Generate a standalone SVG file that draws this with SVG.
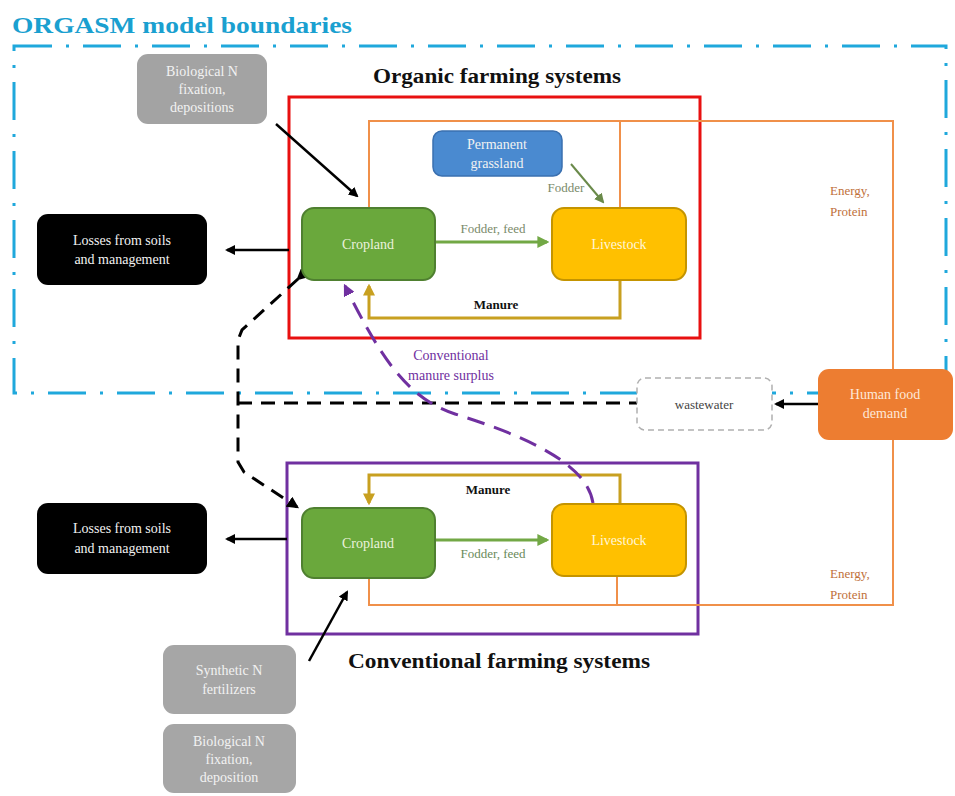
<svg xmlns="http://www.w3.org/2000/svg" width="955" height="796" viewBox="0 0 955 796">
<style>
text{font-family:"Liberation Serif","DejaVu Serif",serif;}
.lbl{font-size:14px;text-anchor:middle;}
.wt{fill:#f2f2f2;}
.ttl{font-size:20px;font-weight:bold;fill:#111;text-anchor:middle;}
.ep{font-size:13px;fill:#c0703a;}
.or{fill:none;stroke:#f0904a;stroke-width:2;}
.mn{fill:none;stroke:#c8a020;stroke-width:3;}
.ff{fill:none;stroke:#72a845;stroke-width:3;}
.blk{fill:none;stroke:#000;stroke-width:2.5;}
</style>
<defs>
<marker id="ab" viewBox="0 0 10 10" refX="8" refY="5" markerWidth="4" markerHeight="4" orient="auto"><path d="M0,0 L10,5 L0,10 z" fill="#000"/></marker>
<marker id="ag" viewBox="0 0 10 10" refX="8" refY="5" markerWidth="4" markerHeight="4" orient="auto"><path d="M0,0 L10,5 L0,10 z" fill="#72a845"/></marker>
<marker id="ao" viewBox="0 0 10 10" refX="8" refY="5" markerWidth="4" markerHeight="4" orient="auto"><path d="M0,0 L10,5 L0,10 z" fill="#c8a020"/></marker>
<marker id="ap" viewBox="0 0 10 10" refX="8" refY="5" markerWidth="4" markerHeight="4" orient="auto"><path d="M0,0 L10,5 L0,10 z" fill="#7030a0"/></marker>
<marker id="as" viewBox="0 0 10 10" refX="8" refY="5" markerWidth="5" markerHeight="5" orient="auto"><path d="M0,0 L10,5 L0,10 z" fill="#6a8a4a"/></marker>
</defs>
<rect width="955" height="796" fill="#fff"/>
<text x="12" y="33" font-size="24" font-weight="bold" fill="#1aa0d0" textLength="340" lengthAdjust="spacingAndGlyphs">ORGASM model boundaries</text>
<g id="boundary"><rect x="14" y="46" width="932" height="347" fill="none" stroke="#1fa8dc" stroke-width="3" stroke-dasharray="38 14 3 14"/></g>
<g id="organic-frame">
<rect x="289" y="97" width="411" height="241" fill="none" stroke="#e81010" stroke-width="3"/>
<text class="ttl" x="497" y="83" textLength="248" lengthAdjust="spacingAndGlyphs">Organic farming systems</text>
</g>
<g id="conventional-frame">
<rect x="287" y="463" width="411" height="171" fill="none" stroke="#7030a0" stroke-width="3"/>
<text class="ttl" x="499" y="668" textLength="302" lengthAdjust="spacingAndGlyphs">Conventional farming systems</text>
</g>
<g id="connectors">
<path class="or" d="M369 208 V121 H893 V605 H369 V578 M620 121 V208 M617 576 V605"/>
<text class="ep" x="830" y="195">Energy,</text>
<text class="ep" x="830" y="216">Protein</text>
<text class="ep" x="830" y="578">Energy,</text>
<text class="ep" x="830" y="599">Protein</text>
<path class="mn" d="M620 280 V318 H369 V286" marker-end="url(#ao)"/>
<text x="496" y="309" font-size="13" font-weight="bold" text-anchor="middle" fill="#111">Manure</text>
<path class="mn" d="M620 504 V475 H369 V503" marker-end="url(#ao)"/>
<text x="488" y="494" font-size="13" font-weight="bold" text-anchor="middle" fill="#111">Manure</text>
<path class="ff" d="M435 242 H547" marker-end="url(#ag)"/>
<text x="493" y="233" font-size="13" text-anchor="middle" fill="#7a8a6a">Fodder, feed</text>
<path class="ff" d="M435 540 H547" marker-end="url(#ag)"/>
<text x="493" y="558" font-size="13" text-anchor="middle" fill="#6a8a5a">Fodder, feed</text>
<path d="M571 164 L603 202" fill="none" stroke="#6a8a4a" stroke-width="2" marker-end="url(#as)"/>
<text x="566" y="192" font-size="13" text-anchor="middle" fill="#7a8a6a">Fodder</text>
<path class="blk" d="M276 124 L357 196" marker-end="url(#ab)"/>
<path class="blk" d="M289 250 H227" marker-end="url(#ab)"/>
<path class="blk" d="M287 539 H227" marker-end="url(#ab)"/>
<path class="blk" d="M309 661 L347 592" marker-end="url(#ab)"/>
<path class="blk" d="M818 404 H776" marker-end="url(#ab)"/>
<path d="M238 403 H637" fill="none" stroke="#000" stroke-width="3" stroke-dasharray="14 9"/>
<path d="M298 279 L242 330 L238 340 V462 L244 472 L297 507" fill="none" stroke="#000" stroke-width="3" stroke-dasharray="14 9" marker-start="url(#ab)" marker-end="url(#ab)"/>
<path d="M593 503 C588 470 545 442 455 414 C405 398 378 352 345 286" fill="none" stroke="#7030a0" stroke-width="3" stroke-dasharray="18 10" marker-end="url(#ap)"/>
<text x="451" y="360" font-size="14" text-anchor="middle" fill="#7030a0">Conventional</text>
<text x="451" y="380" font-size="14" text-anchor="middle" fill="#7030a0">manure surplus</text>
</g>
<g id="bio-top"><rect x="137" y="54" width="130" height="70" rx="11" fill="#a3a3a3"/>
<text class="lbl wt" x="202" y="76">Biological N</text><text class="lbl wt" x="202" y="94">fixation,</text><text class="lbl wt" x="202" y="112">depositions</text></g>
<g id="losses-top"><rect x="37" y="214" width="170" height="71" rx="11" fill="#000"/>
<text class="lbl wt" x="122" y="245">Losses from soils</text><text class="lbl wt" x="122" y="264">and  management</text></g>
<g id="cropland-org"><rect x="302" y="208" width="133" height="72" rx="12" fill="#6aa83c" stroke="#4f8030" stroke-width="2"/>
<text class="lbl" x="368" y="249" fill="#eaf2dc">Cropland</text></g>
<g id="livestock-org"><rect x="552" y="208" width="134" height="72" rx="12" fill="#ffc000" stroke="#c49400" stroke-width="2"/>
<text class="lbl" x="619" y="249" fill="#fff6d8">Livestock</text></g>
<g id="grassland"><rect x="433" y="131" width="129" height="45" rx="9" fill="#4a8ad0" stroke="#3a70b0" stroke-width="1.5"/>
<text class="lbl wt" x="497" y="149">Permanent</text><text class="lbl wt" x="497" y="168">grassland</text></g>
<g id="wastewater"><rect x="637" y="378" width="135" height="52" rx="8" fill="#fff" stroke="#b0b0b0" stroke-width="1.5" stroke-dasharray="6 4"/>
<text x="704" y="409" font-size="13" text-anchor="middle" fill="#444">wastewater</text></g>
<g id="human-food"><rect x="818" y="369" width="135" height="71" rx="11" fill="#ed7d31"/>
<text class="lbl" x="885" y="399" fill="#fde8d8">Human food</text><text class="lbl" x="885" y="418" fill="#fde8d8">demand</text></g>
<g id="losses-conv"><rect x="37" y="503" width="170" height="71" rx="11" fill="#000"/>
<text class="lbl wt" x="122" y="533">Losses from soils</text><text class="lbl wt" x="122" y="553">and  management</text></g>
<g id="cropland-conv"><rect x="302" y="508" width="133" height="70" rx="12" fill="#6aa83c" stroke="#4f8030" stroke-width="2"/>
<text class="lbl" x="368" y="548" fill="#eaf2dc">Cropland</text></g>
<g id="livestock-conv"><rect x="552" y="504" width="134" height="72" rx="12" fill="#ffc000" stroke="#c49400" stroke-width="2"/>
<text class="lbl" x="619" y="545" fill="#fff6d8">Livestock</text></g>
<g id="synthetic"><rect x="163" y="645" width="133" height="69" rx="11" fill="#a6a6a6"/>
<text class="lbl wt" x="229" y="675">Synthetic  N</text><text class="lbl wt" x="229" y="694">fertilizers</text></g>
<g id="bio-bottom"><rect x="163" y="724" width="133" height="69" rx="11" fill="#a6a6a6"/>
<text class="lbl wt" x="229" y="746">Biological  N</text><text class="lbl wt" x="229" y="764">fixation,</text><text class="lbl wt" x="229" y="782">deposition</text></g>
</svg>
